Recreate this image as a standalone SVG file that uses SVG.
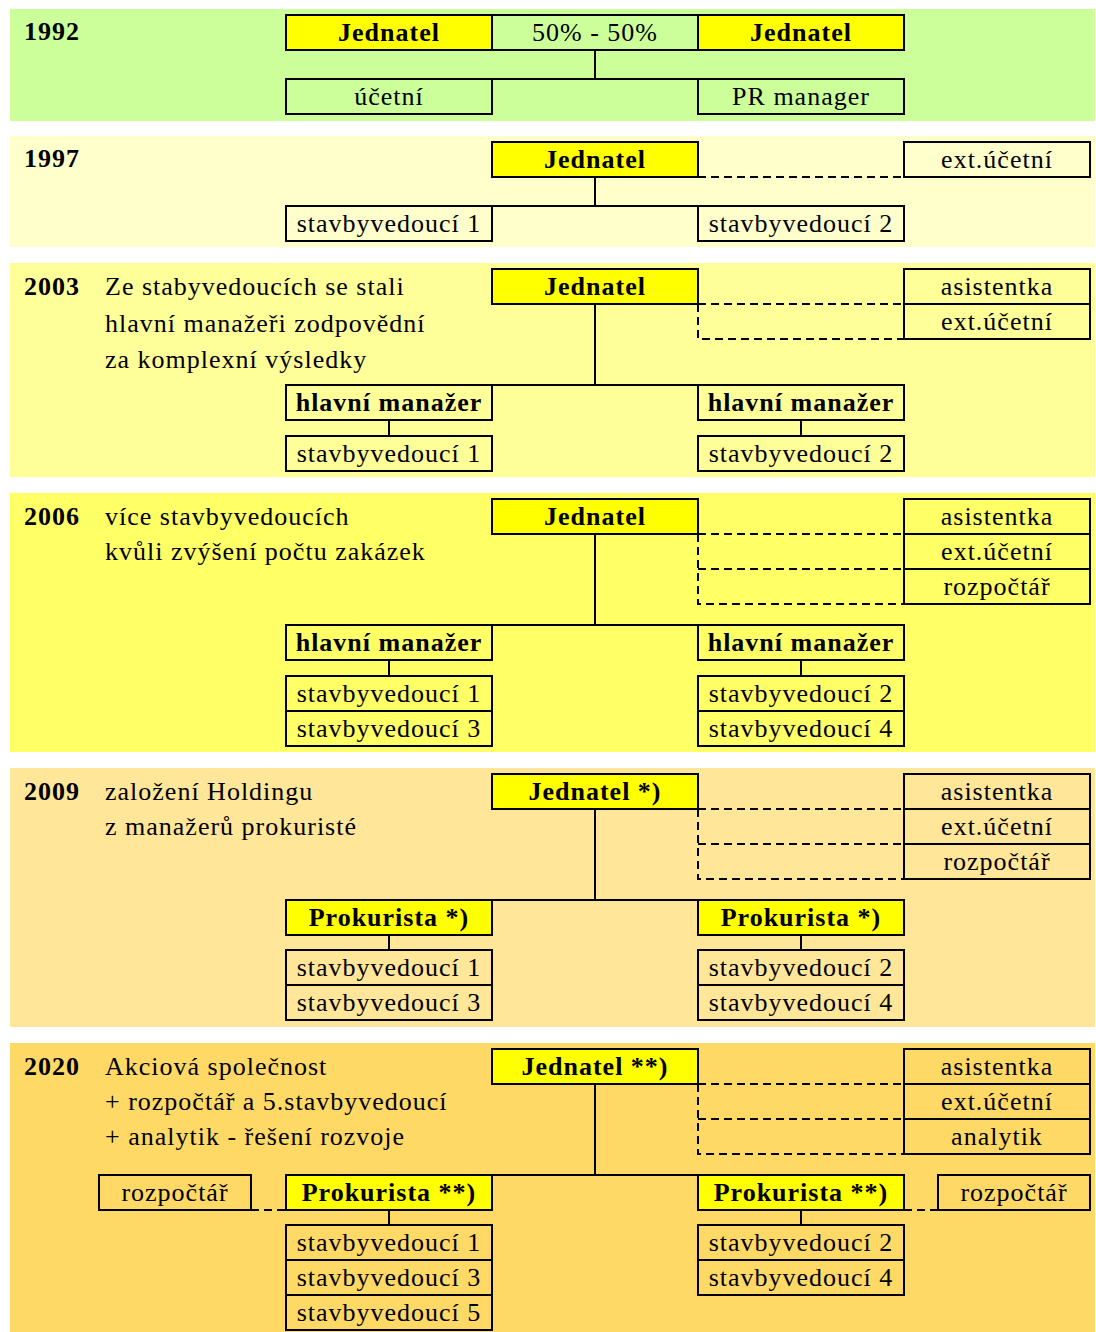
<svg xmlns="http://www.w3.org/2000/svg" width="1096" height="1332" viewBox="0 0 1096 1332">
<style>
.bg{stroke:none}
.box{fill:none;stroke:#000;stroke-width:2}
.yel{fill:#ffff00;stroke:#000;stroke-width:2}
text{font-family:"Times New Roman",Tinos,"Liberation Serif","Noto Serif","DejaVu Serif",FreeSerif,serif;font-size:26px;letter-spacing:1px;fill:#000}
.t{text-anchor:middle}
.b{font-weight:bold}
.conn{fill:none;stroke:#000;stroke-width:2}
.dash{fill:none;stroke:#000;stroke-width:2;stroke-dasharray:8 5}
</style>
<rect width="1096" height="1332" fill="#ffffff"/>
<g id="bands">
<rect class="bg" x="10" y="9" width="1085" height="112" fill="#ccff99"/>
<rect class="bg" x="10" y="136" width="1085" height="111" fill="#ffffcc"/>
<rect class="bg" x="10" y="263" width="1085" height="214" fill="#ffff99"/>
<rect class="bg" x="10" y="493" width="1085" height="259" fill="#ffff66"/>
<rect class="bg" x="10" y="768" width="1085" height="259" fill="#ffe699"/>
<rect class="bg" x="10" y="1043" width="1085" height="289" fill="#ffd966"/>
</g>
<g id="labels">
<text class="b" x="24" y="40">1992</text>
<text class="b" x="24" y="167">1997</text>
<text class="b" x="24" y="295">2003</text>
<text x="105" y="295">Ze stabyvedoucích se stali</text>
<text x="105" y="332">hlavní manažeři zodpovědní</text>
<text x="105" y="368">za komplexní výsledky</text>
<text class="b" x="24" y="525">2006</text>
<text x="105" y="525">více stavbyvedoucích</text>
<text x="105" y="560">kvůli zvýšení počtu zakázek</text>
<text class="b" x="24" y="800">2009</text>
<text x="105" y="800">založení Holdingu</text>
<text x="105" y="835">z manažerů prokuristé</text>
<text class="b" x="24" y="1075">2020</text>
<text x="105" y="1075">Akciová společnost</text>
<text x="105" y="1110">+ rozpočtář a 5.stavbyvedoucí</text>
<text x="105" y="1145">+ analytik - řešení rozvoje</text>
</g>
<g id="connectors">
<path class="conn" d="M595,50V79M492,79H698"/>
<path class="conn" d="M595,177V206M492,206H698"/>
<path class="dash" d="M698,177H904"/>
<path class="conn" d="M595,304V385M492,385H698M389,420V436M801,420V436"/>
<path class="dash" d="M698,304H904M698,304V339H904"/>
<path class="conn" d="M595,534V625M492,625H698M389,660V676M801,660V676"/>
<path class="dash" d="M698,534H904M698,569H904M698,534V604H904"/>
<path class="conn" d="M595,809V900M492,900H698M389,935V950M801,935V950"/>
<path class="dash" d="M698,809H904M698,844H904M698,809V879H904"/>
<path class="conn" d="M595,1084V1175M492,1175H698M389,1210V1225M801,1210V1225"/>
<path class="dash" d="M698,1084H904M698,1119H904M698,1084V1154H904M251,1210H286M904,1210H938"/>
</g>
<g id="n1992-jednatel1"><rect class="yel" x="286" y="15" width="206" height="35"/><text class="t b" x="389" y="41">Jednatel</text></g>
<g id="n1992-share"><rect class="box" x="492" y="15" width="206" height="35"/><text class="t" x="595" y="41">50% - 50%</text></g>
<g id="n1992-jednatel2"><rect class="yel" x="698" y="15" width="206" height="35"/><text class="t b" x="801" y="41">Jednatel</text></g>
<g id="n1992-ucetni"><rect class="box" x="286" y="79" width="206" height="35"/><text class="t" x="389" y="105">účetní</text></g>
<g id="n1992-pr"><rect class="box" x="698" y="79" width="206" height="35"/><text class="t" x="801" y="105">PR manager</text></g>

<g id="n1997-jednatel"><rect class="yel" x="492" y="142" width="206" height="35"/><text class="t b" x="595" y="168">Jednatel</text></g>
<g id="n1997-ext"><rect class="box" x="904" y="142" width="186" height="35"/><text class="t" x="997" y="168">ext.účetní</text></g>
<g id="n1997-sv1"><rect class="box" x="286" y="206" width="206" height="35"/><text class="t" x="389" y="232">stavbyvedoucí 1</text></g>
<g id="n1997-sv2"><rect class="box" x="698" y="206" width="206" height="35"/><text class="t" x="801" y="232">stavbyvedoucí 2</text></g>

<g id="n2003-jednatel"><rect class="yel" x="492" y="269" width="206" height="35"/><text class="t b" x="595" y="295">Jednatel</text></g>
<g id="n2003-asist"><rect class="box" x="904" y="269" width="186" height="35"/><text class="t" x="997" y="295">asistentka</text></g>
<g id="n2003-ext"><rect class="box" x="904" y="304" width="186" height="35"/><text class="t" x="997" y="330">ext.účetní</text></g>
<g id="n2003-hm1"><rect class="box" x="286" y="385" width="206" height="35"/><text class="t b" x="389" y="411">hlavní manažer</text></g>
<g id="n2003-hm2"><rect class="box" x="698" y="385" width="206" height="35"/><text class="t b" x="801" y="411">hlavní manažer</text></g>
<g id="n2003-sv1"><rect class="box" x="286" y="436" width="206" height="35"/><text class="t" x="389" y="462">stavbyvedoucí 1</text></g>
<g id="n2003-sv2"><rect class="box" x="698" y="436" width="206" height="35"/><text class="t" x="801" y="462">stavbyvedoucí 2</text></g>

<g id="n2006-jednatel"><rect class="yel" x="492" y="499" width="206" height="35"/><text class="t b" x="595" y="525">Jednatel</text></g>
<g id="n2006-asist"><rect class="box" x="904" y="499" width="186" height="35"/><text class="t" x="997" y="525">asistentka</text></g>
<g id="n2006-ext"><rect class="box" x="904" y="534" width="186" height="35"/><text class="t" x="997" y="560">ext.účetní</text></g>
<g id="n2006-rozp"><rect class="box" x="904" y="569" width="186" height="35"/><text class="t" x="997" y="595">rozpočtář</text></g>
<g id="n2006-hm1"><rect class="box" x="286" y="625" width="206" height="35"/><text class="t b" x="389" y="651">hlavní manažer</text></g>
<g id="n2006-hm2"><rect class="box" x="698" y="625" width="206" height="35"/><text class="t b" x="801" y="651">hlavní manažer</text></g>
<g id="n2006-sv1"><rect class="box" x="286" y="676" width="206" height="35"/><text class="t" x="389" y="702">stavbyvedoucí 1</text></g>
<g id="n2006-sv3"><rect class="box" x="286" y="711" width="206" height="35"/><text class="t" x="389" y="737">stavbyvedoucí 3</text></g>
<g id="n2006-sv2"><rect class="box" x="698" y="676" width="206" height="35"/><text class="t" x="801" y="702">stavbyvedoucí 2</text></g>
<g id="n2006-sv4"><rect class="box" x="698" y="711" width="206" height="35"/><text class="t" x="801" y="737">stavbyvedoucí 4</text></g>

<g id="n2009-jednatel"><rect class="yel" x="492" y="774" width="206" height="35"/><text class="t b" x="595" y="800">Jednatel *)</text></g>
<g id="n2009-asist"><rect class="box" x="904" y="774" width="186" height="35"/><text class="t" x="997" y="800">asistentka</text></g>
<g id="n2009-ext"><rect class="box" x="904" y="809" width="186" height="35"/><text class="t" x="997" y="835">ext.účetní</text></g>
<g id="n2009-rozp"><rect class="box" x="904" y="844" width="186" height="35"/><text class="t" x="997" y="870">rozpočtář</text></g>
<g id="n2009-pk1"><rect class="yel" x="286" y="900" width="206" height="35"/><text class="t b" x="389" y="926">Prokurista *)</text></g>
<g id="n2009-pk2"><rect class="yel" x="698" y="900" width="206" height="35"/><text class="t b" x="801" y="926">Prokurista *)</text></g>
<g id="n2009-sv1"><rect class="box" x="286" y="950" width="206" height="35"/><text class="t" x="389" y="976">stavbyvedoucí 1</text></g>
<g id="n2009-sv3"><rect class="box" x="286" y="985" width="206" height="35"/><text class="t" x="389" y="1011">stavbyvedoucí 3</text></g>
<g id="n2009-sv2"><rect class="box" x="698" y="950" width="206" height="35"/><text class="t" x="801" y="976">stavbyvedoucí 2</text></g>
<g id="n2009-sv4"><rect class="box" x="698" y="985" width="206" height="35"/><text class="t" x="801" y="1011">stavbyvedoucí 4</text></g>

<g id="n2020-jednatel"><rect class="yel" x="492" y="1049" width="206" height="35"/><text class="t b" x="595" y="1075">Jednatel **)</text></g>
<g id="n2020-asist"><rect class="box" x="904" y="1049" width="186" height="35"/><text class="t" x="997" y="1075">asistentka</text></g>
<g id="n2020-ext"><rect class="box" x="904" y="1084" width="186" height="35"/><text class="t" x="997" y="1110">ext.účetní</text></g>
<g id="n2020-analytik"><rect class="box" x="904" y="1119" width="186" height="35"/><text class="t" x="997" y="1145">analytik</text></g>
<g id="n2020-rozp1"><rect class="box" x="99" y="1175" width="152" height="35"/><text class="t" x="175" y="1201">rozpočtář</text></g>
<g id="n2020-pk1"><rect class="yel" x="286" y="1175" width="206" height="35"/><text class="t b" x="389" y="1201">Prokurista **)</text></g>
<g id="n2020-pk2"><rect class="yel" x="698" y="1175" width="206" height="35"/><text class="t b" x="801" y="1201">Prokurista **)</text></g>
<g id="n2020-rozp2"><rect class="box" x="938" y="1175" width="152" height="35"/><text class="t" x="1014" y="1201">rozpočtář</text></g>
<g id="n2020-sv1"><rect class="box" x="286" y="1225" width="206" height="35"/><text class="t" x="389" y="1251">stavbyvedoucí 1</text></g>
<g id="n2020-sv3"><rect class="box" x="286" y="1260" width="206" height="35"/><text class="t" x="389" y="1286">stavbyvedoucí 3</text></g>
<g id="n2020-sv5"><rect class="box" x="286" y="1295" width="206" height="35"/><text class="t" x="389" y="1321">stavbyvedoucí 5</text></g>
<g id="n2020-sv2"><rect class="box" x="698" y="1225" width="206" height="35"/><text class="t" x="801" y="1251">stavbyvedoucí 2</text></g>
<g id="n2020-sv4"><rect class="box" x="698" y="1260" width="206" height="35"/><text class="t" x="801" y="1286">stavbyvedoucí 4</text></g>
</svg>
